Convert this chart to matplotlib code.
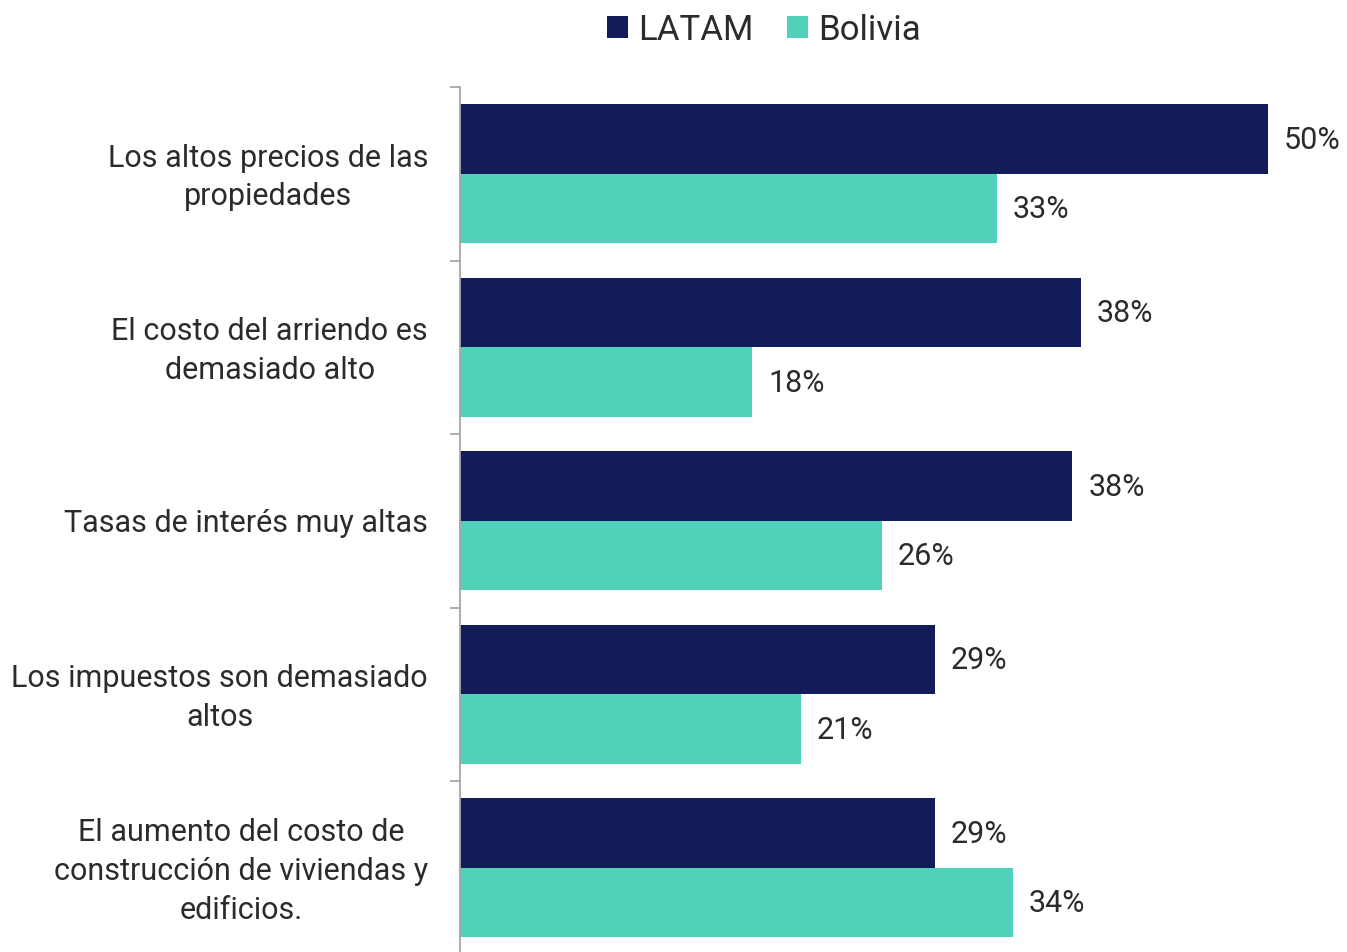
import matplotlib
matplotlib.use("Agg")
import matplotlib.pyplot as plt
from matplotlib.patches import Patch
import matplotlib.transforms as mtransforms
import numpy as np

plt.rcParams['font.family'] = ['Roboto', 'DejaVu Sans']

categories = [
    "Los altos precios de las\npropiedades",
    "El costo del arriendo es\ndemasiado alto",
    "Tasas de interés muy altas",
    "Los impuestos son demasiado\naltos",
    "El aumento del costo de\nconstrucción de viviendas y\nedificios.",
]
series_names = ["LATAM", "Bolivia"]
latam = [50.0, 38.4, 37.9, 29.4, 29.4]
bolivia = [33.2, 18.1, 26.1, 21.1, 34.2]

c_latam = "#131B58"
c_bol = "#52D1BA"
txt = "#2B2B2B"

W, H = 1347, 952
fig = plt.figure(figsize=(W / 100, H / 100), dpi=100)
ax = fig.add_axes([460 / W, (952 - 954.5) / H, 887 / W, 867.5 / H])

y = np.arange(len(categories))
h = 0.4
b1 = ax.barh(y - h / 2, latam, height=h, color=c_latam, edgecolor="none")
b2 = ax.barh(y + h / 2, bolivia, height=h, color=c_bol, edgecolor="none")

for bars, vals in ((b1, latam), (b2, bolivia)):
    for bar, v in zip(bars, vals):
        ax.annotate(f"{round(v)}%", xy=(v, bar.get_y() + bar.get_height() / 2),
                    xytext=(11.5, -1), textcoords="offset points",
                    ha="left", va="center", fontsize=22, color=txt)

ax.set_xlim(0, 887 / 16.16)
ax.set_ylim(len(categories) - 0.5, -0.5)
ax.set_yticks(y)
ax.set_yticklabels(categories, fontsize=22, color=txt, multialignment="center",
                   linespacing=1.42)
ax.tick_params(axis="y", which="major", length=0, pad=23)
ax.set_yticks(np.arange(-0.5, len(categories), 1), minor=True)
ax.tick_params(axis="y", which="minor", length=7, width=1.3, color="#A6A6A6", direction="out")
ax.set_xticks([])
for s in ("top", "right", "bottom"):
    ax.spines[s].set_visible(False)
ax.spines["left"].set_color("#A6A6A6")
ax.spines["left"].set_linewidth(1.3)

for lab in ax.get_yticklabels():
    if "\n" in lab.get_text():
        lab.set_transform(lab.get_transform() +
                          mtransforms.ScaledTranslation(0, 4 / 100, fig.dpi_scale_trans))

handles = [Patch(facecolor=c_latam, edgecolor="none"), Patch(facecolor=c_bol, edgecolor="none")]
fig.legend(handles, series_names, loc="center", bbox_to_anchor=(764 / W, 1 - 30 / H),
           ncol=2, frameon=False, fontsize=25, handlelength=0.6, handleheight=0.6,
           handletextpad=0.3, columnspacing=0.95, labelcolor=txt)

fig.savefig("out.png", dpi=100)
